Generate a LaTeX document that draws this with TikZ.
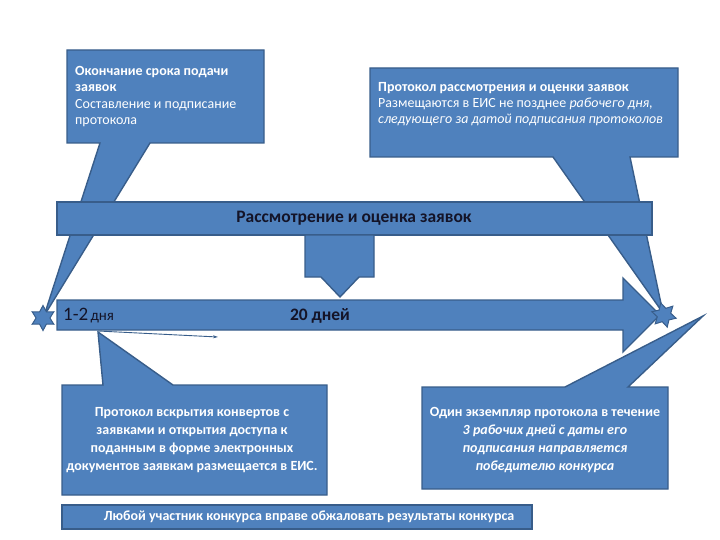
\documentclass[tikz,border=0pt]{standalone}
\usepackage{fontspec}
\setmainfont{Carlito}
\usetikzlibrary{shapes.geometric,arrows.meta}
\definecolor{bfill}{HTML}{4F81BD}
\definecolor{bline}{HTML}{385D8A}
\definecolor{dtext}{HTML}{141428}
\tikzset{
  bshape/.style={fill=bfill,draw=bline,line width=1.4pt,line join=miter},
  wtext/.style={text=white,inner sep=0pt,font=\fontsize{14}{16.5}\selectfont},
  starshape/.style={star,star points=6,star point ratio=1.8,minimum size=25pt,inner sep=0pt,fill=bfill,draw=bline,line width=1pt}
}
\begin{document}
\begin{tikzpicture}[x=1pt,y=-1pt]
\useasboundingbox (0,0) rectangle (720,540);
% callouts
\draw[bshape] (67,50) -- (264,50) -- (264,143) -- (150,143) -- (44,316) -- (100,143) -- (67,143) -- cycle;
\draw[bshape] (370,68) -- (678,68) -- (678,157) -- (630,157) -- (663,313) -- (553,157) -- (370,157) -- cycle;
\draw[bshape] (62,385) -- (103,385) -- (98,332) -- (173,385) -- (327,385) -- (327,495) -- (62,495) -- cycle;
\draw[bshape] (422,387) -- (565,387) -- (703,316) -- (628,387) -- (668,387) -- (668,489) -- (422,489) -- cycle;
% main arrow
\draw[bshape] (57,300) -- (623,300) -- (623,278) -- (660,315) -- (623,352) -- (623,330) -- (57,330) -- cycle;
% big bar
\draw[bshape] (57,202) rectangle (652,235);
% down arrow
\draw[bshape] (305,235) -- (374,235) -- (374,277) -- (359,277) -- (340,297) -- (321,277) -- (305,277) -- cycle;
% bottom bar
\draw[bshape] (62,505) rectangle (532,529);
% stars
\node[starshape] (sl) at (43,318) {};
\node[starshape,rotate=15] (sr) at (664,315) {};
% thin arrow
\coordinate (ta) at (98,331);
\coordinate (tb) at (218,337);
\draw[bline,line width=0.9pt,-{Stealth[length=5pt,width=3pt]}] (ta) -- (tb);
% texts
\node[wtext,anchor=north west,align=left] (t1) at (75,66) {\textbf{Окончание срока подачи}\\\textbf{заявок}\\Составление и подписание\\протокола};
\node[wtext,anchor=north west,align=left,font=\fontsize{14}{16}\selectfont] (t2) at (378,82) {\textbf{Протокол рассмотрения и оценки заявок}\\Размещаются в ЕИС не позднее \textit{рабочего дня,}\\\textit{следующего за датой подписания протоколов}};
\node[text=dtext,font=\fontsize{17.5}{20}\selectfont\bfseries] (t3) at (354,218) {Рассмотрение и оценка заявок};
\node[text=dtext,anchor=west,inner sep=0pt] (t4) at (63,316) {{\fontsize{19}{20}\selectfont 1-2} {\fontsize{15}{16}\selectfont дня}};
\node[text=dtext,font=\fontsize{17.5}{20}\selectfont\bfseries] (t5) at (320,316) {20 дней};
\node[wtext,align=center,font=\fontsize{14}{18}\selectfont\bfseries] (t6) at (192,440) {Протокол вскрытия конвертов с\\заявками и открытия доступа к\\поданным в форме электронных\\документов заявкам размещается  в ЕИС.};
\node[wtext,align=center,font=\fontsize{14}{18}\selectfont\bfseries] (t7) at (545,440) {Один экземпляр протокола в течение\\\textit{3 рабочих дней с даты его}\\\textit{подписания направляется}\\\textit{победителю конкурса}};
\node[wtext,font=\fontsize{14}{16}\selectfont\bfseries] (t8) at (309,517) {Любой участник конкурса вправе обжаловать результаты конкурса};
\end{tikzpicture}
\end{document}
